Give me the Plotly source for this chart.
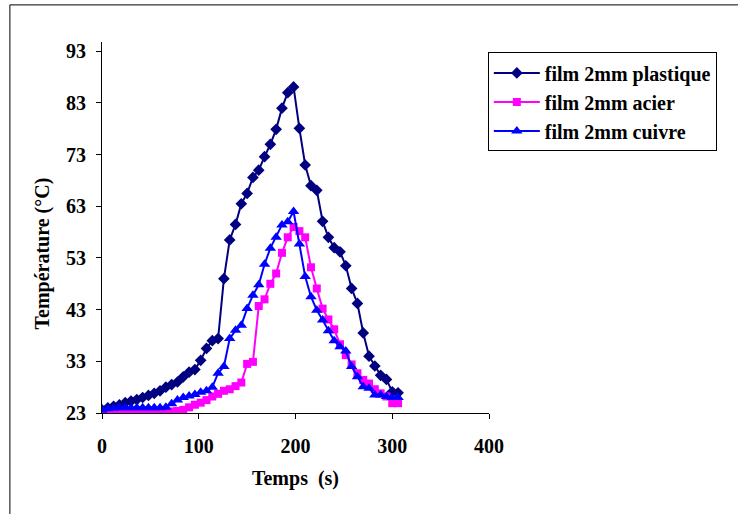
import plotly.graph_objects as go

# Temps de mesure (s)
temps = [0, 6, 12, 18, 24, 30, 36, 42, 48, 54, 60, 66, 72, 78, 84, 90, 96, 102,
         108, 114, 120, 126, 132, 138, 144, 150, 156, 162, 168, 174, 180, 186,
         192, 198, 204, 210, 216, 222, 228, 234, 240, 246, 252, 258, 264, 270,
         276, 282, 288, 294, 300, 306]

# Température (°C) pour chaque film de 2 mm
plastique = [23.6, 24.0, 24.3, 24.6, 25.0, 25.3, 25.6, 26.0, 26.4, 26.8, 27.3,
             28.0, 28.5, 29.0, 30.0, 30.9, 31.4, 33.2, 35.5, 37.0, 37.4, 49.0,
             56.5, 59.5, 63.5, 65.5, 68.6, 70.0, 72.6, 75.0, 77.9, 82.0, 85.0,
             86.1, 78.1, 71.0, 67.0, 66.1, 60.1, 57.0, 55.0, 54.2, 51.5, 47.1,
             44.2, 38.5, 34.0, 32.1, 30.3, 29.5, 27.1, 26.9]

acier = [23.1, 23.1, 23.1, 23.1, 23.1, 23.3, 23.3, 23.3, 23.3, 23.3, 23.3,
         23.3, 23.3, 23.4, 23.6, 24.1, 24.6, 25.0, 25.5, 26.2, 26.7, 27.3,
         27.6, 28.2, 28.9, 32.5, 32.9, 43.7, 45.0, 48.0, 50.0, 54.0, 57.0,
         59.0, 58.2, 57.0, 51.2, 47.1, 43.2, 41.1, 39.2, 36.3, 34.2, 32.4,
         30.7, 29.4, 28.7, 27.6, 26.8, 26.2, 24.9, 24.9]

cuivre = [23.6, 23.8, 23.9, 24.0, 24.0, 24.0, 24.0, 24.0, 24.0, 24.0, 24.0,
          24.1, 24.8, 25.5, 26.0, 26.3, 26.6, 27.0, 27.3, 28.0, 30.7, 32.0,
          37.4, 39.0, 40.0, 43.2, 45.8, 47.8, 51.8, 54.9, 57.0, 59.4, 60.0,
          62.0, 55.7, 49.4, 45.5, 42.9, 41.0, 38.9, 37.0, 35.8, 35.0, 32.0,
          30.0, 28.1, 27.8, 26.5, 26.5, 26.2, 26.0, 26.0]

y_ticks = [23, 33, 43, 53, 63, 73, 83, 93]
x_ticks = [0, 100, 200, 300, 400]

SERIF = "Liberation Serif"

fig = go.Figure()
fig.add_trace(go.Scatter(
    x=temps, y=plastique, name="film 2mm plastique", mode="lines+markers",
    line=dict(color="#000080", width=2),
    marker=dict(symbol="diamond", size=9, color="#000080")))
fig.add_trace(go.Scatter(
    x=temps, y=acier, name="film 2mm acier", mode="lines+markers",
    line=dict(color="#FF00FF", width=2),
    marker=dict(symbol="square", size=8, color="#FF00FF")))
fig.add_trace(go.Scatter(
    x=temps, y=cuivre, name="film 2mm cuivre", mode="lines+markers",
    line=dict(color="#0000FF", width=2),
    marker=dict(symbol="triangle-up", size=10, color="#0000FF")))

axis_font = dict(family=SERIF, size=20, color="black", weight="bold")

fig.update_layout(
    width=738, height=514,
    margin=dict(l=102, r=249, t=42, b=101),
    paper_bgcolor="white", plot_bgcolor="white",
    showlegend=True,
    legend=dict(
        x=0.997, y=0.972, xanchor="left", yanchor="top",
        bordercolor="black", borderwidth=1, bgcolor="white",
        font=dict(family=SERIF, size=20, color="black", weight="bold"),
        itemwidth=46, tracegroupgap=3,
    ),
    xaxis=dict(
        range=[0, 400], tickvals=x_ticks, ticktext=[str(v) for v in x_ticks],
        showgrid=False, zeroline=False, showline=True, linecolor="black",
        linewidth=1, ticks="outside", ticklen=5, tickcolor="black",
        tickfont=axis_font, ticklabelstandoff=10,
        title=dict(text="Temps  (s)", font=axis_font, standoff=14),
    ),
    yaxis=dict(
        range=[23, 94.8], tickvals=y_ticks, ticktext=[str(v) for v in y_ticks],
        showgrid=False, zeroline=False, showline=True, linecolor="black",
        linewidth=1, ticks="outside", ticklen=5, tickcolor="black",
        tickfont=axis_font, ticklabelstandoff=6,
    ),
    annotations=[
        dict(text="Température (°C)", xref="paper", yref="paper",
             x=-0.155, y=0.43, xanchor="center", yanchor="middle",
             textangle=-90, showarrow=False, font=axis_font),
    ],
    shapes=[
        # cadre extérieur du graphique
        dict(type="line", xref="paper", yref="paper", x0=-0.238, x1=-0.238,
             y0=-0.35, y1=1.1, line=dict(color="black", width=1)),
        dict(type="line", xref="paper", yref="paper", x0=-0.238, x1=1.7,
             y0=1.1, y1=1.1, line=dict(color="black", width=1)),
    ],
)

fig.write_html("out.html")
